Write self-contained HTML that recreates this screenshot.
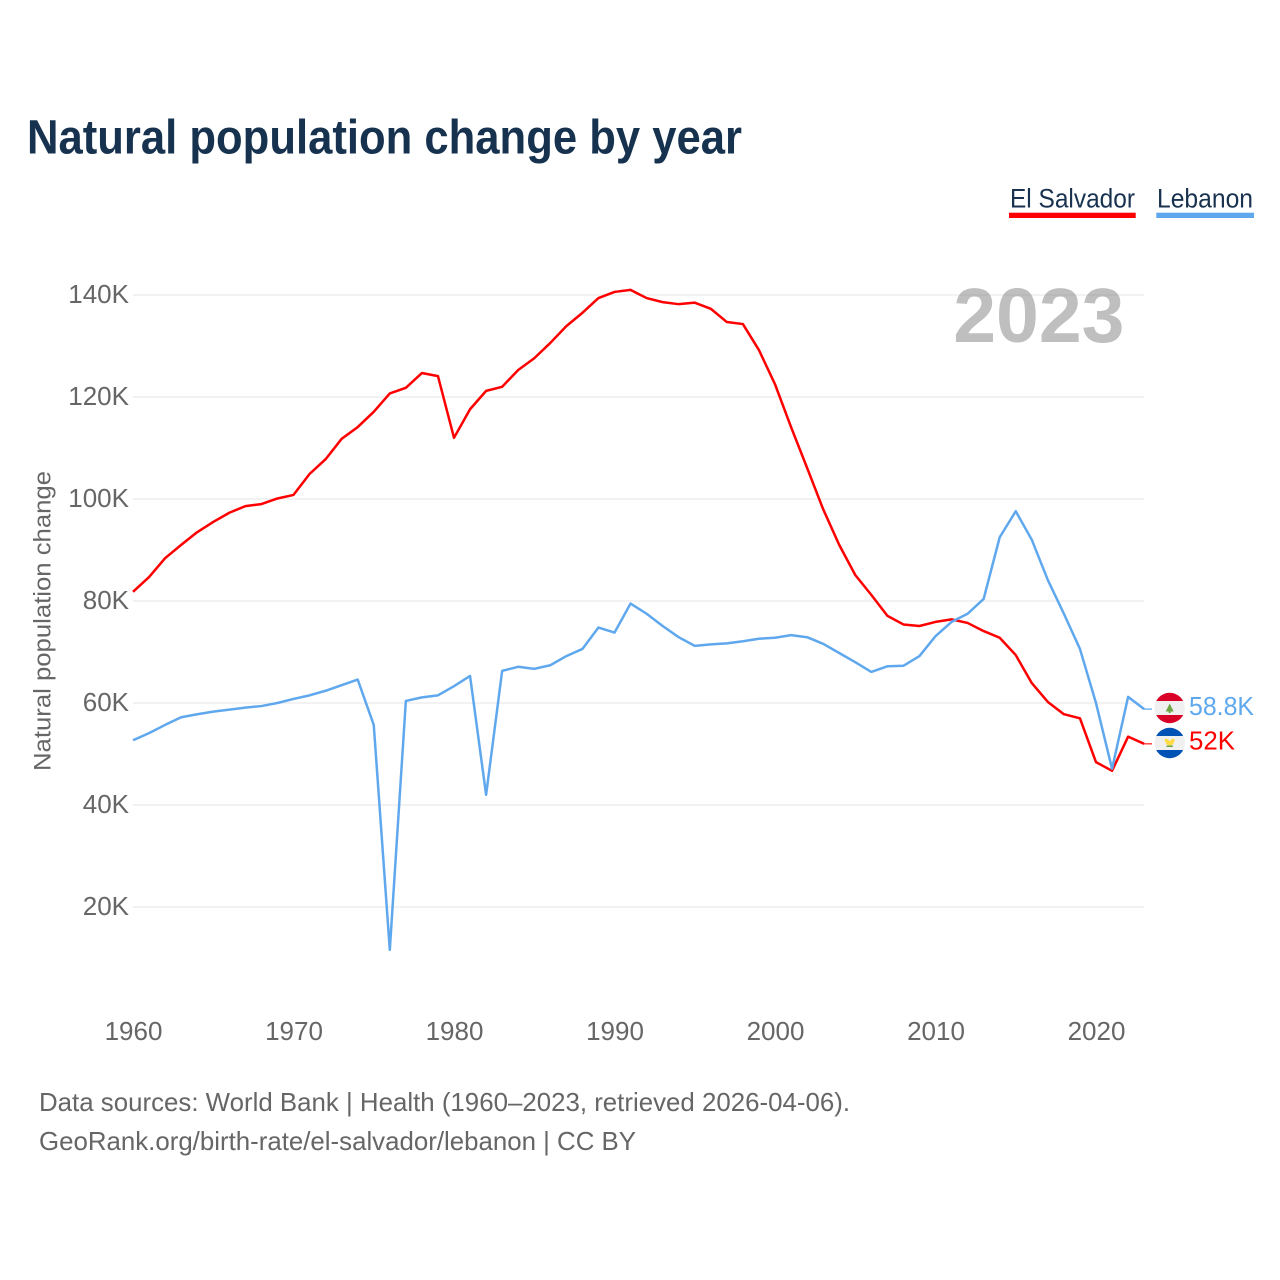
<!DOCTYPE html>
<html lang="en">
<head>
<meta charset="utf-8">
<title>Natural population change by year</title>
<style>
html,body{margin:0;padding:0;background:#fff;}
svg{display:block;}
text{font-family:"Liberation Sans",sans-serif;}
</style>
</head>
<body>
<svg id="chart" xmlns="http://www.w3.org/2000/svg" width="1280" height="1280" viewBox="0 0 1280 1280">
  <defs>
    <clipPath id="clip-lb"><circle cx="1169.7" cy="708" r="15.2"/></clipPath>
    <clipPath id="clip-sv"><circle cx="1169.7" cy="743" r="15.2"/></clipPath>
  </defs>
  <rect width="1280" height="1280" fill="#fff"/>
  <text x="27" y="153.5" font-size="48" font-weight="700" fill="#16324f" textLength="715" lengthAdjust="spacingAndGlyphs">Natural population change by year</text>

  <g id="grid"></g>
  <text x="1124.5" y="342" text-anchor="end" font-size="77" font-weight="700" fill="#808080" fill-opacity="0.5">2023</text>
  <g id="yticks"></g>
  <g id="xticks"></g>
  <text transform="translate(50.5,771) rotate(-90)" font-size="24" fill="#666" textLength="300" lengthAdjust="spacingAndGlyphs">Natural population change</text>

  <g id="series"></g>

  <g>
    <g>
      <text x="1010" y="207.5" font-size="27" fill="#18324f" textLength="125" lengthAdjust="spacingAndGlyphs">El Salvador</text>
      <rect x="1009" y="212.7" width="126.7" height="5.3" fill="#ff0000"/>
    </g>
    <g>
      <text x="1157" y="207.5" font-size="27" fill="#18324f" textLength="96" lengthAdjust="spacingAndGlyphs">Lebanon</text>
      <rect x="1156.3" y="212.7" width="97.7" height="5.3" fill="#5fa8ee"/>
    </g>
  </g>

  <g clip-path="url(#clip-lb)">
    <rect x="1154" y="692" width="32" height="32" fill="#f0f0f0"/>
    <rect x="1154" y="692" width="32" height="9" fill="#d80027"/>
    <rect x="1154" y="715" width="32" height="9" fill="#d80027"/>
    <polygon points="1169.7,703.5 1173.7,711.5 1170.7,711.5 1170.7,713 1168.7,713 1168.7,711.5 1165.7,711.5" fill="#6da544"/>
  </g>
  <g clip-path="url(#clip-sv)">
    <rect x="1154" y="727" width="32" height="32" fill="#f0f0f0"/>
    <rect x="1154" y="727" width="32" height="9" fill="#0052b4"/>
    <rect x="1154" y="750" width="32" height="9" fill="#0052b4"/>
    <path d="M1164.7 739 A5 6.5 0 0 0 1174.7 739 L1171.5 739 L1169.7 741.5 L1167.9 739 Z" fill="#ffda44"/>
    <rect x="1166.5" y="745.5" width="6.4" height="1.5" fill="#6da544"/>
  </g>
  <text x="1189" y="715" font-size="26" fill="#5fa8ee" textLength="65" lengthAdjust="spacingAndGlyphs">58.8K</text>
  <text x="1189" y="749.5" font-size="26" fill="#ff0000" textLength="46" lengthAdjust="spacingAndGlyphs">52K</text>

  <text x="39" y="1111" font-size="26" fill="#666" textLength="811" lengthAdjust="spacingAndGlyphs">Data sources: World Bank | Health (1960–2023, retrieved 2026-04-06).</text>
  <text x="39" y="1150" font-size="26" fill="#666" textLength="597" lengthAdjust="spacingAndGlyphs">GeoRank.org/birth-rate/el-salvador/lebanon | CC BY</text>
</svg>
<script>
const startYear = 1960;
const xTickYears = [1960, 1970, 1980, 1990, 2000, 2010, 2020];
const yTickValues = [20, 40, 60, 80, 100, 120, 140];
const yTickLabels = ["20K", "40K", "60K", "80K", "100K", "120K", "140K"];
const elSalvador = [81.8,84.7,88.4,91.0,93.5,95.5,97.3,98.6,99.0,100.1,100.8,104.9,107.8,111.8,114.1,117.1,120.7,121.8,124.7,124.1,112.0,117.6,121.2,122.0,125.3,127.6,130.6,133.9,136.5,139.4,140.6,141.0,139.4,138.6,138.2,138.5,137.3,134.7,134.3,129.2,122.5,114.1,106.1,98.0,91.0,85.1,81.2,77.1,75.4,75.1,75.9,76.4,75.7,74.1,72.8,69.4,63.9,60.2,57.8,57.0,48.4,46.7,53.4,52.0];
const lebanon = [52.7,54.1,55.7,57.2,57.8,58.3,58.7,59.1,59.4,60.0,60.8,61.5,62.4,63.5,64.6,55.7,11.6,60.4,61.1,61.5,63.3,65.3,42.0,66.3,67.1,66.7,67.4,69.2,70.6,74.8,73.8,79.5,77.5,75.1,72.9,71.2,71.5,71.7,72.1,72.6,72.8,73.3,72.9,71.6,69.8,68.0,66.1,67.2,67.3,69.2,73.1,75.9,77.5,80.4,92.5,97.6,92.0,84.1,77.5,70.6,60.0,47.1,61.2,58.8];

const NS = 'http://www.w3.org/2000/svg';
function xScale(year) { return 133 + (year - 1960) * 16.05; }
function yScale(value) { return 295 + (140 - value) * 5.1; }
const grid = document.getElementById('grid');
const yticks = document.getElementById('yticks');
const xticks = document.getElementById('xticks');
const series = document.getElementById('series');

yTickValues.forEach(function (value, i) {
  const line = document.createElementNS(NS, 'line');
  
  
  line.setAttribute('x1', xScale(1960));
  line.setAttribute('x2', 1144);
  line.setAttribute('y1', yScale(value));
  line.setAttribute('y2', yScale(value));
  line.setAttribute('stroke', '#eeeeee');
  line.setAttribute('stroke-width', '1.6');
  grid.appendChild(line);
  const label = document.createElementNS(NS, 'text');
  
  
  label.setAttribute('x', 129);
  label.setAttribute('y', yScale(value) + 8);
  label.setAttribute('text-anchor', 'end');
  label.setAttribute('font-size', '26');
  label.setAttribute('fill', '#666');
  label.textContent = yTickLabels[i];
  yticks.appendChild(label);
});

xTickYears.forEach(function (year) {
  const label = document.createElementNS(NS, 'text');
  
  
  label.setAttribute('x', xScale(year) + 0.5);
  label.setAttribute('y', 1040);
  label.setAttribute('text-anchor', 'middle');
  label.setAttribute('font-size', '26');
  label.setAttribute('fill', '#666');
  label.textContent = String(year);
  xticks.appendChild(label);
});

function pathFor(values) {
  return values.map(function (v, i) {
    return (i ? 'L' : 'M') + xScale(startYear + i).toFixed(2) + ' ' + yScale(v).toFixed(2);
  }).join(' ');
}

const redLine = document.createElementNS(NS, 'path');


redLine.setAttribute('d', pathFor(elSalvador));
redLine.setAttribute('fill', 'none');
redLine.setAttribute('stroke', '#ff0000');
redLine.setAttribute('stroke-width', '2.5');
redLine.setAttribute('stroke-linejoin', 'round');
series.appendChild(redLine);

const blueLine = document.createElementNS(NS, 'path');


blueLine.setAttribute('d', pathFor(lebanon));
blueLine.setAttribute('fill', 'none');
blueLine.setAttribute('stroke', '#5fa8ee');
blueLine.setAttribute('stroke-width', '2.5');
blueLine.setAttribute('stroke-linejoin', 'round');
series.appendChild(blueLine);

const redLink = document.createElementNS(NS, 'line');


redLink.setAttribute('x1', xScale(2023));
redLink.setAttribute('x2', 1152);
redLink.setAttribute('y1', yScale(elSalvador[elSalvador.length - 1]));
redLink.setAttribute('y2', yScale(elSalvador[elSalvador.length - 1]));
redLink.setAttribute('stroke', '#ff0000');
redLink.setAttribute('stroke-opacity', '0.7');
redLink.setAttribute('stroke-width', '1.6');
series.appendChild(redLink);

const blueLink = document.createElementNS(NS, 'line');


blueLink.setAttribute('x1', xScale(2023));
blueLink.setAttribute('x2', 1152);
blueLink.setAttribute('y1', yScale(lebanon[lebanon.length - 1]));
blueLink.setAttribute('y2', yScale(lebanon[lebanon.length - 1]));
blueLink.setAttribute('stroke', '#5fa8ee');
blueLink.setAttribute('stroke-opacity', '0.8');
blueLink.setAttribute('stroke-width', '1.6');
series.appendChild(blueLink);
</script>
</body>
</html>
